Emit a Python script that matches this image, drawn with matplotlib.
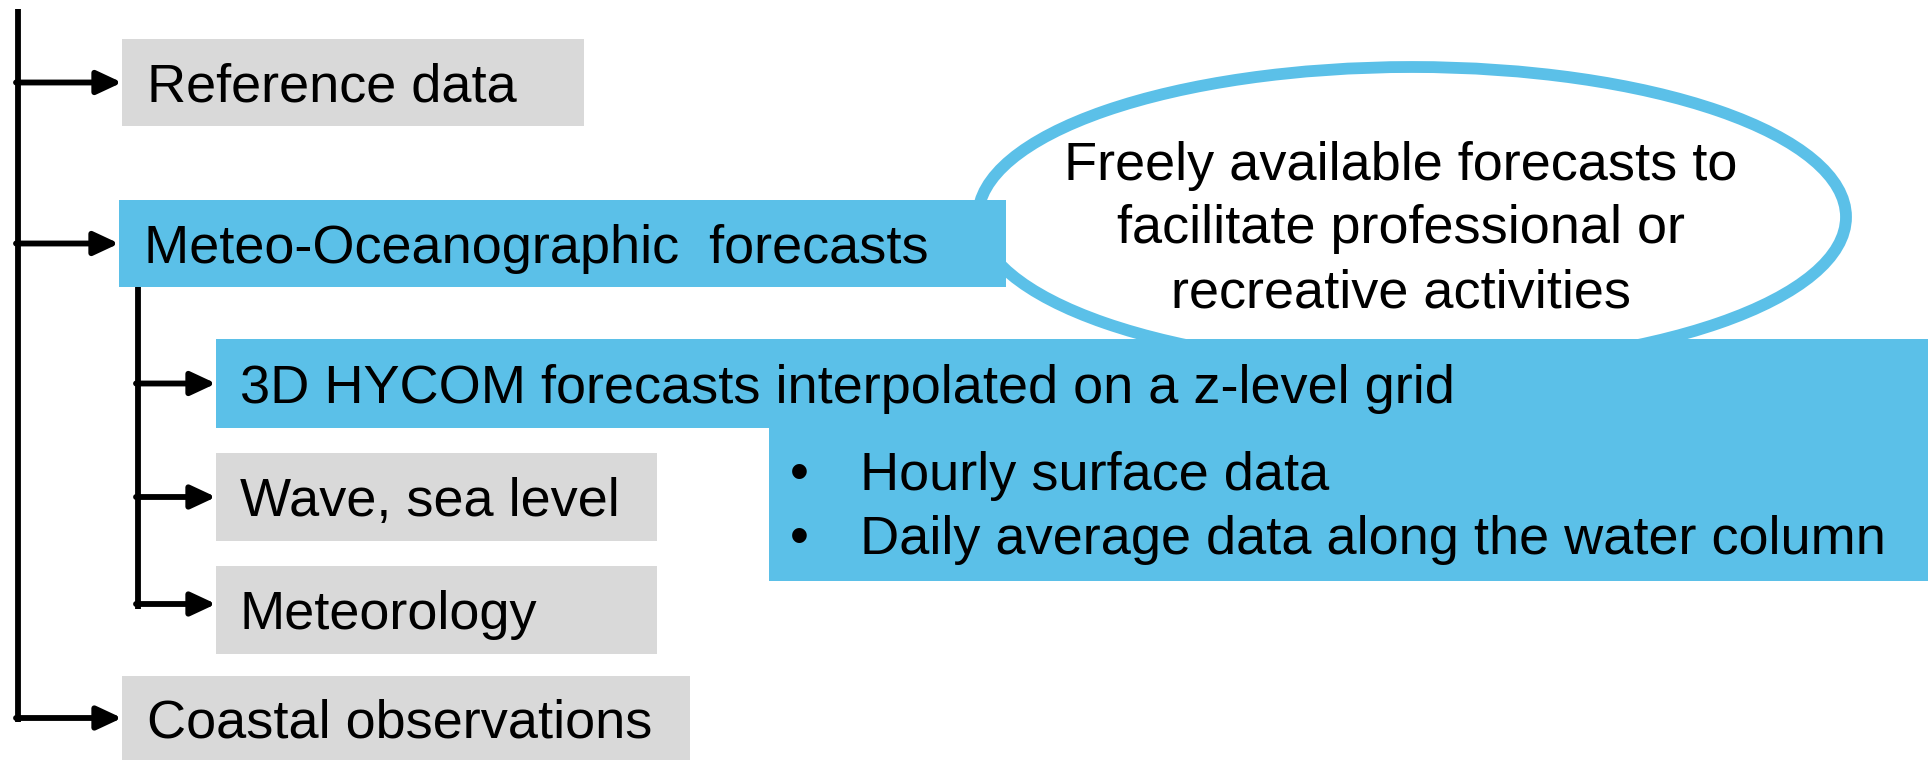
import matplotlib
matplotlib.use('Agg')
import matplotlib.pyplot as plt
from matplotlib.patches import Rectangle, Ellipse

AZUL = '#5bc0e8'
GRIS = '#d9d9d9'
FUENTE = ['Liberation Sans', 'Arial', 'DejaVu Sans']
TAM = 39
LW = 4.2

# textos del diagrama
etiquetas = ['Reference data', 'Meteo-Oceanographic  forecasts', 'Coastal observations']
sub_etiquetas = ['3D HYCOM forecasts interpolated on a z-level grid', 'Wave, sea level', 'Meteorology']
vinetas = ['Hourly surface data', 'Daily average data along the water column']
nota = ['Freely available forecasts to', 'facilitate professional or', 'recreative activities']

# layout en pixeles (x0, y0, x1, y1), y hacia abajo
cajas = [(122, 39, 584, 126), (119, 200, 1006, 287), (122, 676, 690, 760)]
colores = [GRIS, AZUL, GRIS]
sub_cajas = [(216, 339, 1928, 428), (216, 453, 657, 541), (216, 566, 657, 654)]
sub_colores = [AZUL, GRIS, GRIS]
caja_vinetas = (769, 427, 1928, 581)


def flecha(ax, x0, x1, y):
    ax.annotate('', xy=(x1, y), xytext=(x0, y),
                arrowprops=dict(arrowstyle='-|>,head_length=0.75,head_width=0.35',
                                lw=LW, color='black', shrinkA=0, shrinkB=0,
                                mutation_scale=20), zorder=5)


fig = plt.figure(figsize=(19.28, 7.6), dpi=100)
ax = fig.add_axes([0, 0, 1, 1])
ax.set_xlim(0, 1928)
ax.set_ylim(760, 0)
ax.axis('off')

# elipse de la nota (queda por detras de las cajas azules)
ax.add_patch(Ellipse((1412, 217), 868, 300, facecolor='white', edgecolor=AZUL,
                     lw=8.5, zorder=1))
for k, linea in enumerate(nota):
    ax.text(1401, 180 + 63.5 * k, linea, fontsize=TAM, family=FUENTE,
            ha='center', va='baseline', zorder=6)

# nivel principal
ax.plot([18, 18], [9, 722], color='black', lw=LW, solid_capstyle='butt', zorder=4)
for (x0, y0, x1, y1), c, txt in zip(cajas, colores, etiquetas):
    ax.add_patch(Rectangle((x0, y0), x1 - x0, y1 - y0, facecolor=c, edgecolor='none', zorder=2))
    ym = (y0 + y1) / 2
    flecha(ax, 16, x0, ym)
    ax.text(x0 + 25, ym + 19, txt, fontsize=TAM, family=FUENTE, va='baseline', zorder=6)

# sub-nivel de los pronosticos
ax.plot([138, 138], [287, 609], color='black', lw=LW, solid_capstyle='butt', zorder=4)
ax.add_patch(Rectangle((caja_vinetas[0], caja_vinetas[1]), caja_vinetas[2] - caja_vinetas[0],
                       caja_vinetas[3] - caja_vinetas[1], facecolor=AZUL, edgecolor='none', zorder=2))
for (x0, y0, x1, y1), c, txt in zip(sub_cajas, sub_colores, sub_etiquetas):
    ax.add_patch(Rectangle((x0, y0), x1 - x0, y1 - y0, facecolor=c, edgecolor='none', zorder=2))
    ym = (y0 + y1) / 2
    if txt == 'Meteorology':
        ym = 604
    flecha(ax, 136, x0, ym)
    ax.text(x0 + 24, (y0 + y1) / 2 + 19, txt, fontsize=TAM, family=FUENTE, va='baseline', zorder=6)

for k, txt in enumerate(vinetas):
    yb = 490 + 64 * k
    ax.text(799, yb, '\u2022', fontsize=TAM, family=FUENTE, ha='center', va='baseline', zorder=6)
    ax.text(860, yb, txt, fontsize=TAM, family=FUENTE, va='baseline', zorder=6)

fig.savefig('out.png', dpi=100)
